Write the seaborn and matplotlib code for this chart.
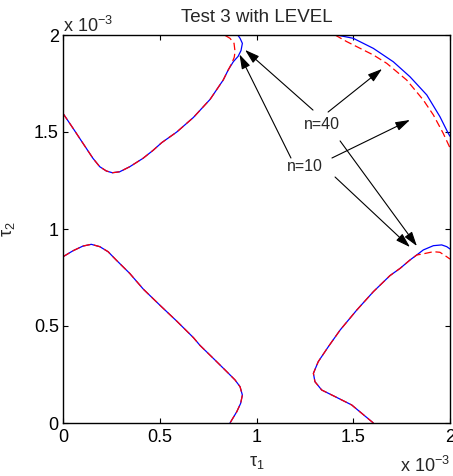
import matplotlib
matplotlib.use("Agg")
import matplotlib.pyplot as plt
import seaborn as sns
import pandas as pd

# tau values in units of 1e-3
# upper-left branch: shared part, then the two tips at the top edge
ul_x = [0.0, 0.052, 0.103, 0.155, 0.19, 0.224, 0.255, 0.293, 0.345, 0.413, 0.465, 0.51, 0.588, 0.674, 0.760, 0.828, 0.854]
ul_y = [1.596, 1.519, 1.442, 1.364, 1.321, 1.299, 1.290, 1.295, 1.321, 1.364, 1.405, 1.445, 1.500, 1.575, 1.668, 1.768, 1.820]
ul40_x = [0.880, 0.905, 0.920, 0.927, 0.915, 0.903]
ul40_y = [1.862, 1.890, 1.920, 1.957, 1.983, 2.0]
ul10_x = [0.872, 0.885, 0.889, 0.884, 0.863, 0.834]
ul10_y = [1.854, 1.885, 1.914, 1.957, 1.983, 2.0]

# lower-left branch
ll_x = [0.0, 0.052, 0.103, 0.146, 0.19, 0.233, 0.275, 0.345, 0.415, 0.501, 0.588, 0.674, 0.708, 0.777,
        0.846, 0.889, 0.915, 0.927, 0.918, 0.898, 0.863]
ll_y = [0.857, 0.888, 0.912, 0.921, 0.909, 0.883, 0.840, 0.771, 0.690, 0.607, 0.525, 0.440, 0.400, 0.333,
        0.265, 0.222, 0.187, 0.144, 0.101, 0.058, 0.0]

# lower-right branch: shared part, then the two tips at the right edge
lr_x = [1.604, 1.492, 1.406, 1.337, 1.302, 1.294, 1.319, 1.371, 1.432, 1.518, 1.604, 1.690, 1.742, 1.793, 1.828]
lr_y = [0.0, 0.093, 0.136, 0.170, 0.213, 0.256, 0.316, 0.393, 0.479, 0.582, 0.677, 0.760, 0.797, 0.840, 0.866]
lr40_x = [1.862, 1.914, 1.957, 1.983, 2.0]
lr40_y = [0.892, 0.914, 0.918, 0.909, 0.897]
lr10_x = [1.862, 1.914, 1.948, 1.983, 2.0]
lr10_y = [0.872, 0.883, 0.880, 0.857, 0.845]

# upper-right branch
ur40_x = [1.414, 1.500, 1.604, 1.707, 1.793, 1.880, 1.948, 1.991, 2.0]
ur40_y = [2.0, 1.983, 1.931, 1.862, 1.785, 1.691, 1.579, 1.493, 1.478]
ur10_x = [1.406, 1.466, 1.604, 1.673, 1.776, 1.862, 1.914, 1.965, 2.0]
ur10_y = [2.0, 1.966, 1.897, 1.854, 1.768, 1.665, 1.588, 1.493, 1.418]

ticks = [0, 0.5, 1, 1.5, 2]
tick_labels = ["0", "0.5", "1", "1.5", "2"]


def branch_frame(n, name, xs, ys):
    return pd.DataFrame({"tau1": xs, "tau2": ys, "branch": name, "n": n})


df = pd.concat([
    branch_frame(40, "ul", ul_x + ul40_x, ul_y + ul40_y),
    branch_frame(40, "ll", ll_x, ll_y),
    branch_frame(40, "lr", lr_x + lr40_x, lr_y + lr40_y),
    branch_frame(40, "ur", ur40_x, ur40_y),
    branch_frame(10, "ul", ul_x + ul10_x, ul_y + ul10_y),
    branch_frame(10, "ll", ll_x, ll_y),
    branch_frame(10, "lr", lr_x + lr10_x, lr_y + lr10_y),
    branch_frame(10, "ur", ur10_x, ur10_y),
], ignore_index=True)

sns.set_theme(style="ticks")
plt.rcParams["font.family"] = ["Liberation Sans", "DejaVu Sans"]
plt.rcParams["mathtext.fontset"] = "custom"
plt.rcParams["mathtext.rm"] = "Liberation Sans"
plt.rcParams["mathtext.it"] = "Liberation Sans:italic"

fig = plt.figure(figsize=(4.53, 4.76), dpi=100)
ax = fig.add_axes([63 / 453, 53 / 476, 387 / 453, 388 / 476])

sns.lineplot(data=df[df["n"] == 40], x="tau1", y="tau2", units="branch",
             estimator=None, sort=False, color="#0000ff", lw=0.9, ax=ax)
sns.lineplot(data=df[df["n"] == 10], x="tau1", y="tau2", units="branch",
             estimator=None, sort=False, color="#ff0000", lw=0.9,
             linestyle=(0, (6, 3)), ax=ax)

ax.set_xlim(0, 2)
ax.set_ylim(0, 2)
ax.set_xticks(ticks)
ax.set_xticklabels(tick_labels)
ax.set_yticks(ticks)
ax.set_yticklabels(tick_labels)
ax.tick_params(direction="in", length=3.5, width=0.8, top=True, right=True,
               labelsize=13, colors="black")
ax.tick_params(axis="x", pad=4)
ax.tick_params(axis="y", pad=3)
for s in ax.spines.values():
    s.set_visible(True)
    s.set_linewidth(1.0)
    s.set_color("black")

ax.set_xlabel("τ$_1$", fontsize=13, labelpad=6)
ax.set_ylabel("τ$_2$", fontsize=13, labelpad=12)
ax.set_title("Test 3 with LEVEL", fontsize=13.5, pad=9)

fig.text(63 / 453, 1 - 32 / 476, "x 10$^{-3}$", fontsize=13, ha="left", va="baseline")
fig.text(400 / 453, 1 - 472 / 476, "x 10$^{-3}$", fontsize=13, ha="left", va="baseline")

arrow = dict(arrowstyle="-|>,head_length=0.8,head_width=0.25", color="black",
             lw=0.8, shrinkA=0, shrinkB=0, mutation_scale=11)
ax.text(1.339, 1.541, "n=40", fontsize=11.5, ha="center", va="center")
ax.text(1.251, 1.320, "n=10", fontsize=11.5, ha="center", va="center")
# n=40 arrows
ax.annotate("", xy=(0.941, 1.923), xytext=(1.292, 1.613), arrowprops=arrow)
ax.annotate("", xy=(1.649, 1.825), xytext=(1.370, 1.603), arrowprops=arrow)
ax.annotate("", xy=(1.829, 0.912), xytext=(1.432, 1.454), arrowprops=arrow)
# n=10 arrows
ax.annotate("", xy=(0.912, 1.900), xytext=(1.178, 1.366), arrowprops=arrow)
ax.annotate("", xy=(1.793, 1.562), xytext=(1.390, 1.366), arrowprops=arrow)
ax.annotate("", xy=(1.793, 0.907), xytext=(1.406, 1.268), arrowprops=arrow)

fig.savefig("out.png", dpi=100)
